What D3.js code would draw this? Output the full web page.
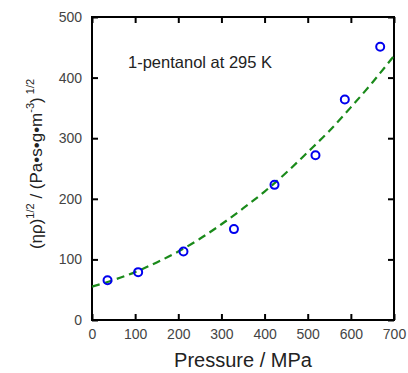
<!DOCTYPE html>
<html>
<head>
<meta charset="utf-8">
<script src="https://cdn.jsdelivr.net/npm/d3@7"></script>
<style>
  body { margin: 0; background: #fff; }
  text { font-family: "Liberation Sans", Arial, sans-serif; }
</style>
</head>
<body>
<script>
// measured points
var pressure = [36, 107, 212, 329, 423, 518, 586, 668];
var sqrtEtaRho = [65.5, 79, 113, 150, 223, 272, 364, 451];

// dashed fit curve
var fitP = [0, 50, 100, 150, 200, 250, 300, 350, 400, 450, 500, 550, 600, 650, 700];
var fitV = [55, 66, 79, 95, 113, 134, 158, 184, 212, 243, 277, 312, 351, 392, 436];

var xTicks = [0, 100, 200, 300, 400, 500, 600, 700];
var yTicks = [0, 100, 200, 300, 400, 500];

var svgWidth = 408, svgHeight = 373;
var margin = {top: 17, right: 14, bottom: 53, left: 92};
var width = svgWidth - margin.left - margin.right;
var height = svgHeight - margin.top - margin.bottom;

var svg = d3.select("body").append("svg")
  .attr("width", svgWidth)
  .attr("height", svgHeight);

var chart = svg.append("g")
  .attr("transform", `translate(${margin.left}, ${margin.top})`);

var x = d3.scaleLinear().domain([0, 700]).range([0, width]);
var y = d3.scaleLinear().domain([0, 500]).range([height, 0]);

// axes with inward ticks on all 4 sides
chart.append("g")
  .attr("transform", `translate(0, ${height})`)
  .call(d3.axisBottom(x).tickValues(xTicks).tickSizeInner(-6).tickSizeOuter(0).tickPadding(9))
  .call(g => g.select(".domain").remove());
chart.append("g")
  .call(d3.axisTop(x).tickValues(xTicks).tickSizeInner(-6).tickSizeOuter(0).tickFormat(""))
  .call(g => g.select(".domain").remove());
chart.append("g")
  .call(d3.axisLeft(y).tickValues(yTicks).tickSizeInner(-6).tickSizeOuter(0).tickPadding(10))
  .call(g => g.select(".domain").remove());
chart.append("g")
  .attr("transform", `translate(${width}, 0)`)
  .call(d3.axisRight(y).tickValues(yTicks).tickSizeInner(-6).tickSizeOuter(0).tickFormat(""))
  .call(g => g.select(".domain").remove());

chart.selectAll(".tick line").attr("stroke", "#000").attr("stroke-width", 2);
chart.selectAll(".tick text")
  .attr("fill", "#444")
  .style("font-size", "14px");

chart.append("rect")
  .attr("width", width)
  .attr("height", height)
  .attr("fill", "none")
  .attr("stroke", "#000")
  .attr("stroke-width", 2);

// fit line
var fitData = fitP.map((p, i) => ({p: p, v: fitV[i]}));
var line = d3.line()
  .x(d => x(d.p))
  .y(d => y(d.v))
  .curve(d3.curveMonotoneX);

chart.append("path")
  .datum(fitData)
  .attr("d", line)
  .attr("fill", "none")
  .attr("stroke", "#1a8a1a")
  .attr("stroke-width", 2.2)
  .attr("stroke-dasharray", "8,5");

// data points
chart.selectAll("circle")
  .data(pressure)
  .enter()
  .append("circle")
  .attr("cx", d => x(d))
  .attr("cy", (d, i) => y(sqrtEtaRho[i]))
  .attr("r", 4)
  .attr("fill", "none")
  .attr("stroke", "#0000ee")
  .attr("stroke-width", 2);

// annotation
chart.append("text")
  .attr("x", 36)
  .attr("y", 51)
  .style("font-size", "16.5px")
  .attr("fill", "#222")
  .text("1-pentanol at 295 K");

// axis titles
svg.append("text")
  .attr("x", margin.left + width / 2)
  .attr("y", 367)
  .attr("text-anchor", "middle")
  .style("font-size", "20px")
  .attr("fill", "#222")
  .text("Pressure / MPa");

var yl = svg.append("text")
  .attr("transform", "translate(42, 164) rotate(-90)")
  .attr("text-anchor", "middle")
  .style("font-size", "17px")
  .attr("fill", "#222");
yl.append("tspan").text("(ηρ)");
yl.append("tspan").attr("dy", -8).style("font-size", "11px").text("1/2");
yl.append("tspan").attr("dy", 8).text(" / (Pa•s•g•m");
yl.append("tspan").attr("dy", -8).style("font-size", "11px").text("-3");
yl.append("tspan").attr("dy", 8).text(")");
yl.append("tspan").attr("dy", -8).style("font-size", "11px").text(" 1/2");
</script>
</body>
</html>
